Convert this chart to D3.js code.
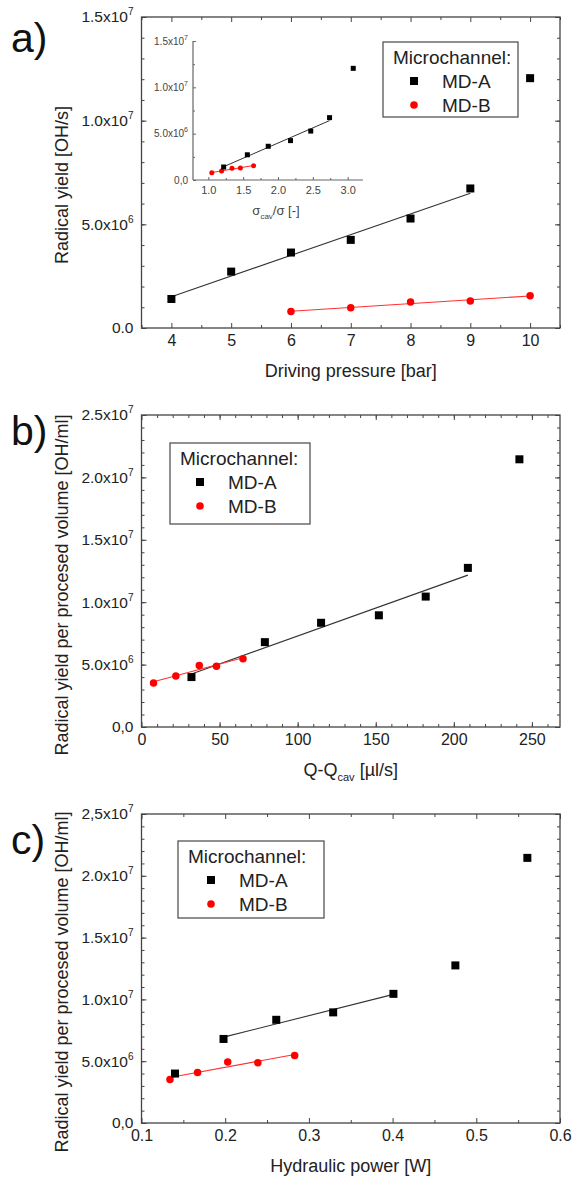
<!DOCTYPE html>
<html>
<head>
<meta charset="utf-8">
<style>
  body { margin: 0; background: #fff; }
  svg text { font-family: "Liberation Sans", Arial, sans-serif; }
</style>
</head>
<body>
<script src="https://cdn.jsdelivr.net/npm/d3@7"></script>
<script>
// ---- a) radical yield vs driving pressure
var pressureA = [4, 5, 6, 7, 8, 9, 10];
var pressureB = [6, 7, 8, 9, 10];
var yieldA = [1.40e6, 2.72e6, 3.64e6, 4.25e6, 5.28e6, 6.73e6, 1.205e7];
var yieldB = [0.79e6, 0.98e6, 1.26e6, 1.30e6, 1.55e6];
var pressureTicks = [4, 5, 6, 7, 8, 9, 10];
var yieldTicks = [0, 5e6, 1e7, 1.5e7];
var yieldTickLabels = ["0.0", "5.0x10^6", "1.0x10^7", "1.5x10^7"];

// ---- inset: yield vs sigma_cav/sigma
var sigmaA = [1.22, 1.56, 1.86, 2.18, 2.47, 2.74, 3.08];
var sigmaB = [1.05, 1.19, 1.34, 1.46, 1.65];
var sigmaTicks = [1.0, 1.5, 2.0, 2.5, 3.0];
var sigmaTickLabels = ["1.0", "1.5", "2.0", "2.5", "3.0"];
var insetYTickLabels = ["0,0", "5.0x10^6", "1.0x10^7", "1.5x10^7"];

// ---- b) and c) yield per processed volume
var flowA = [32, 79, 115, 152, 182, 209, 242];
var flowB = [7.7, 22, 37, 48, 65];
var powerA = [0.140, 0.198, 0.261, 0.329, 0.401, 0.475, 0.561];
var powerB = [0.134, 0.167, 0.203, 0.239, 0.283];
var volYieldA = [4.0e6, 6.8e6, 8.35e6, 8.95e6, 10.45e6, 12.75e6, 21.45e6];
var volYieldB = [3.52e6, 4.08e6, 4.93e6, 4.87e6, 5.46e6];
var flowTicks = [0, 50, 100, 150, 200, 250];
var powerTicks = [0.1, 0.2, 0.3, 0.4, 0.5, 0.6];
var powerTickLabels = ["0.1", "0.2", "0.3", "0.4", "0.5", "0.6"];
var volTicks = [0, 5e6, 1e7, 1.5e7, 2e7, 2.5e7];
var volTickLabelsB = ["0,0", "5.0x10^6", "1.0x10^7", "1.5x10^7", "2.0x10^7", "2.5x10^7"];
var volTickLabelsC = ["0,0", "5.0x10^6", "1.0x10^7", "1.5x10^7", "2.0x10^7", "2,5x10^7"];

var seriesNames = ["MD-A", "MD-B"];

var svg = d3.select("body").append("svg")
            .attr("width", 572)
            .attr("height", 1177);

// least squares line through the chosen points
function linfit(xs, ys) {
  var mx = d3.mean(xs), my = d3.mean(ys);
  var sxy = d3.sum(xs, function(v, i) { return (v - mx) * (ys[i] - my); });
  var sxx = d3.sum(xs, function(v) { return (v - mx) * (v - mx); });
  var b = sxy / sxx;
  return function(v) { return my + b * (v - mx); };
}

// "5.0x10^6" -> text + superscript
function supLabels(g, supSize, rise) {
  g.selectAll(".tick text").each(function() {
    var t = d3.select(this), s = t.text();
    if (s.indexOf("^") < 0) return;
    var parts = s.split("^");
    t.text(parts[0]);
    t.append("tspan").attr("dy", -rise).attr("font-size", supSize).text(parts[1]);
  });
}

function axis(g, fn, scale, values, size, labels, pad) {
  var ax = fn(scale).tickValues(values)
                    .tickSizeInner(-size)
                    .tickSizeOuter(0)
                    .tickPadding(pad || 0)
                    .tickFormat(labels ? function(d, i) { return labels[i]; } : "");
  g.call(ax);
  g.select(".domain").remove();
  g.attr("font-family", null);
  return g;
}

function drawMarkers(g, x, y, xs, ys, kind, size) {
  if (kind == "square") {
    g.selectAll(null).data(xs).enter().append("rect")
      .attr("x", function(d) { return x(d) - size / 2; })
      .attr("y", function(d, i) { return y(ys[i]) - size / 2; })
      .attr("width", size)
      .attr("height", size)
      .attr("fill", "#000");
  } else {
    g.selectAll(null).data(xs).enter().append("circle")
      .attr("cx", function(d) { return x(d); })
      .attr("cy", function(d, i) { return y(ys[i]); })
      .attr("r", size / 2)
      .attr("fill", "#ff0000");
  }
}

function drawFit(g, x, y, xs, ys, color, w) {
  var f = linfit(xs, ys);
  var x0 = d3.min(xs), x1 = d3.max(xs);
  g.append("line")
    .attr("x1", x(x0)).attr("y1", y(f(x0)))
    .attr("x2", x(x1)).attr("y2", y(f(x1)))
    .attr("stroke", color)
    .attr("stroke-width", w);
}

function drawPanel(p) {
  var g = svg.append("g");
  var x = d3.scaleLinear().domain(p.xDomain).range([p.left, p.right]);
  var y = d3.scaleLinear().domain(p.yDomain).range([p.bottom, p.top]);

  g.append("rect")
    .attr("x", p.left).attr("y", p.top)
    .attr("width", p.right - p.left).attr("height", p.bottom - p.top)
    .attr("fill", "none").attr("stroke", "#444").attr("stroke-width", 1.3);

  var c = "#444";
  // major + minor, on all four sides, pointing inward
  var bx = axis(g.append("g").attr("transform", "translate(0," + p.bottom + ")"), d3.axisBottom, x, p.xTicks, 5, p.xLabels, 7);
  bx.attr("color", c).attr("font-size", 16);
  bx.selectAll("text").attr("fill", "#222");
  axis(g.append("g").attr("transform", "translate(0," + p.bottom + ")").attr("color", c), d3.axisBottom, x, p.xMinor, 3);
  axis(g.append("g").attr("transform", "translate(0," + p.top + ")").attr("color", c), d3.axisTop, x, p.xTicks, 5);
  axis(g.append("g").attr("transform", "translate(0," + p.top + ")").attr("color", c), d3.axisTop, x, p.xMinor, 3);

  var ly = axis(g.append("g").attr("transform", "translate(" + p.left + ",0)"), d3.axisLeft, y, p.yTicks, 5, p.yLabels, 8);
  ly.attr("color", c).attr("font-size", 15.5);
  ly.selectAll("text").attr("fill", "#222");
  supLabels(ly, 10, 7);
  axis(g.append("g").attr("transform", "translate(" + p.left + ",0)").attr("color", c), d3.axisLeft, y, p.yMinor, 3);
  axis(g.append("g").attr("transform", "translate(" + p.right + ",0)").attr("color", c), d3.axisRight, y, p.yTicks, 5);
  axis(g.append("g").attr("transform", "translate(" + p.right + ",0)").attr("color", c), d3.axisRight, y, p.yMinor, 3);

  // axis titles
  var xt = g.append("text")
    .attr("x", (p.left + p.right) / 2).attr("y", p.bottom + 49)
    .attr("text-anchor", "middle").attr("font-size", 18).attr("fill", "#222");
  p.xTitle(xt);
  g.append("text")
    .attr("transform", "translate(68," + p.yTitleY + ") rotate(-90)")
    .attr("text-anchor", "middle").attr("font-size", 18).attr("fill", "#222")
    .text(p.yTitle);

  // panel letter
  g.append("text")
    .attr("x", 11).attr("y", p.letterY)
    .attr("font-family", "'Open Sans', sans-serif")
    .attr("font-size", 41).attr("fill", "#111")
    .text(p.letter);

  // fits, then markers
  drawFit(g, x, y, p.xA.slice(p.fitA[0], p.fitA[1]), p.yA.slice(p.fitA[0], p.fitA[1]), "#333", 1.1);
  drawFit(g, x, y, p.xB, p.yB, "#ff3030", 1.1);
  drawMarkers(g, x, y, p.xB, p.yB, "circle", 7.5);
  drawMarkers(g, x, y, p.xA, p.yA, "square", 8);

  // legend
  var L = p.legend;
  g.append("rect")
    .attr("x", L.x).attr("y", L.y).attr("width", L.w).attr("height", L.h)
    .attr("fill", "#fff").attr("stroke", "#555").attr("stroke-width", 1.3);
  g.append("text").attr("x", L.x + 10).attr("y", L.y + 22)
    .attr("font-size", 19).attr("fill", "#222").text("Microchannel:");
  var sx = L.x + L.sym;
  g.append("rect").attr("x", sx - 4).attr("y", L.y + 39 - 4).attr("width", 8).attr("height", 8).attr("fill", "#000");
  g.append("circle").attr("cx", sx).attr("cy", L.y + 63).attr("r", 3.8).attr("fill", "#ff0000");
  g.selectAll(null).data(seriesNames).enter().append("text")
    .attr("x", sx + 28)
    .attr("y", function(d, i) { return L.y + 46 + i * 24; })
    .attr("font-size", 19).attr("fill", "#222")
    .text(function(d) { return d; });
}

drawPanel({
  letter: "a)", letterY: 52,
  left: 141.5, right: 560, top: 17, bottom: 328,
  xDomain: [3.5, 10.5], yDomain: [0, 1.5e7],
  xTicks: pressureTicks, xLabels: pressureTicks.map(String), xMinor: d3.range(3.5, 10.6, 1),
  yTicks: yieldTicks, yLabels: yieldTickLabels, yMinor: d3.range(0, 1.5e7, 1e6),
  xA: pressureA, yA: yieldA, fitA: [0, 6], xB: pressureB, yB: yieldB,
  xTitle: function(t) { t.text("Driving pressure [bar]"); },
  yTitle: "Radical yield [OH/s]", yTitleY: 185,
  legend: { x: 383, y: 42, w: 135, h: 75, sym: 31 }
});

drawPanel({
  letter: "b)", letterY: 445,
  left: 141.5, right: 560, top: 415, bottom: 727,
  xDomain: [0, 268], yDomain: [0, 2.5e7],
  xTicks: flowTicks, xLabels: flowTicks.map(String), xMinor: d3.range(10, 268, 10),
  yTicks: volTicks, yLabels: volTickLabelsB, yMinor: d3.range(0, 2.5e7, 1e6),
  xA: flowA, yA: volYieldA, fitA: [0, 6], xB: flowB, yB: volYieldB,
  xTitle: function(t) {
    t.append("tspan").text("Q-Q");
    t.append("tspan").attr("dy", 5).attr("font-size", 11).text("cav");
    t.append("tspan").attr("dy", -5).text(" [\u00b5l/s]");
  },
  yTitle: "Radical yield per procesed volume [OH/ml]", yTitleY: 585,
  legend: { x: 170, y: 443, w: 140, h: 81, sym: 30 }
});

drawPanel({
  letter: "c)", letterY: 854,
  left: 141.5, right: 560, top: 814, bottom: 1123,
  xDomain: [0.1, 0.6], yDomain: [0, 2.5e7],
  xTicks: powerTicks, xLabels: powerTickLabels, xMinor: d3.range(0.15, 0.6, 0.1),
  yTicks: volTicks, yLabels: volTickLabelsC, yMinor: d3.range(0, 2.5e7, 1e6),
  xA: powerA, yA: volYieldA, fitA: [1, 5], xB: powerB, yB: volYieldB,
  xTitle: function(t) { t.text("Hydraulic power [W]"); },
  yTitle: "Radical yield per procesed volume [OH/ml]", yTitleY: 982,
  legend: { x: 178, y: 841, w: 146, h: 77, sym: 33 }
});

// ---- inset in panel a
(function() {
  var L = 193, R = 363, T = 41, B = 180;
  var g = svg.append("g");
  var x = d3.scaleLinear().domain([0.78, 3.22]).range([L, R]);
  var y = d3.scaleLinear().domain([0, 1.5e7]).range([B, T]);
  var c = "#666";

  g.append("line").attr("x1", L).attr("y1", B).attr("x2", R).attr("y2", B).attr("stroke", c).attr("stroke-width", 1.2);
  g.append("line").attr("x1", L).attr("y1", B).attr("x2", L).attr("y2", T).attr("stroke", c).attr("stroke-width", 1.2);

  var bx = axis(g.append("g").attr("transform", "translate(0," + B + ")"), d3.axisBottom, x, sigmaTicks, 3, sigmaTickLabels, 6);
  bx.attr("color", c).attr("font-size", 11);
  bx.selectAll("text").attr("fill", "#444");
  axis(g.append("g").attr("transform", "translate(0," + B + ")").attr("color", c), d3.axisBottom, x, d3.range(1.25, 3.2, 0.5), 2);

  var ly = axis(g.append("g").attr("transform", "translate(" + L + ",0)"), d3.axisLeft, y, yieldTicks, 3, insetYTickLabels, 5);
  ly.attr("color", c).attr("font-size", 10);
  ly.selectAll("text").attr("fill", "#444");
  supLabels(ly, 7, 5);
  axis(g.append("g").attr("transform", "translate(" + L + ",0)").attr("color", c), d3.axisLeft, y, d3.range(2.5e6, 1.5e7, 5e6), 2);

  var t = g.append("text").attr("x", 276).attr("y", 215)
    .attr("text-anchor", "middle").attr("font-size", 13).attr("fill", "#444");
  t.append("tspan").text("\u03c3");
  t.append("tspan").attr("dy", 4).attr("font-size", 8).text("cav");
  t.append("tspan").attr("dy", -4).text("/\u03c3 [-]");

  drawFit(g, x, y, sigmaA.slice(0, 6), yieldA.slice(0, 6), "#333", 1);
  drawFit(g, x, y, sigmaB, yieldB, "#ff3030", 1.1);
  drawMarkers(g, x, y, sigmaB, yieldB, "circle", 5);
  drawMarkers(g, x, y, sigmaA, yieldA, "square", 5);
})();
</script>
</body>
</html>
